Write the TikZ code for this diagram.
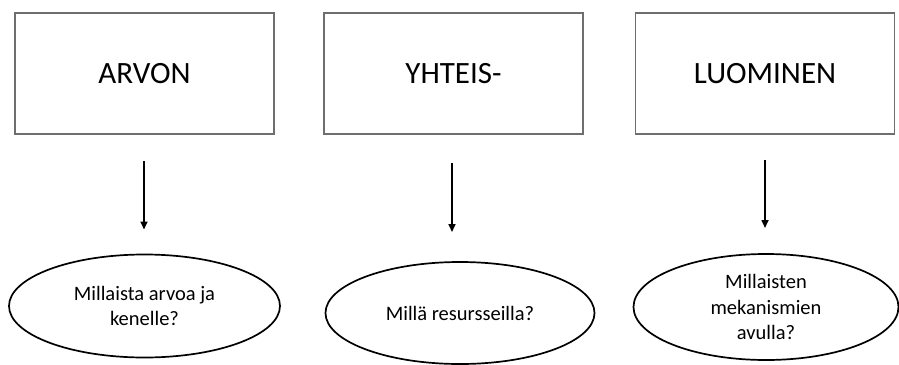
\documentclass[tikz,border=0pt]{standalone}
\usepackage{fontspec}
\setmainfont{Carlito}
\usetikzlibrary{arrows.meta, positioning, shapes.geometric}
\definecolor{boxGray}{HTML}{6E6E6E}

\begin{document}
\begin{tikzpicture}[x=1pt, y=-1pt,
      hd/.style={draw=boxGray, line width=1.6pt, minimum width=259pt, minimum height=121pt,
        inner sep=0pt, outer sep=0pt, font=\fontsize{31}{36}\selectfont},
      q/.style={ellipse, draw, line width=1.7pt, inner sep=0pt, outer sep=0pt, align=center,
        font=\fontsize{20.5}{25.5}\selectfont},
      ar/.style={-{Triangle[length=8pt, width=7pt]}, line width=1.6pt}]
    \useasboundingbox (0,0) rectangle (899,364);
    % top boxes
    \node[hd] (arvon) at (144.5, 73.5) {ARVON};
    \node[hd] (yht)   at (453.5, 73.5) {YHTEIS-};
    \node[hd] (luom)  at (765, 73.5)   {LUOMINEN};
    % questions
    \node[q, minimum width=271pt, minimum height=103pt] (qarvo) at (144.5, 306) {Millaista arvoa ja\\kenelle?};
    \node[q, minimum width=269pt, minimum height=102pt] (qres)  at (460, 313)   {Millä resursseilla?};
    \node[q, minimum width=265pt, minimum height=106pt] (qmek)  at (766, 307)   {Millaisten\\mekanismien\\avulla?};
    % arrows
    \draw[ar, shorten <=27pt, shorten >=25pt] ([xshift=-0.5pt]arvon.south) -- ([xshift=-0.5pt]arvon.south |- qarvo.north);
    \draw[ar, shorten <=29pt, shorten >=30pt] ([xshift=-1.5pt]yht.south) -- ([xshift=-1.5pt]yht.south |- qres.north);
    \draw[ar, shorten <=26pt, shorten >=26pt] (luom.south) -- (luom.south |- qmek.north);
  \end{tikzpicture}
\end{document}
